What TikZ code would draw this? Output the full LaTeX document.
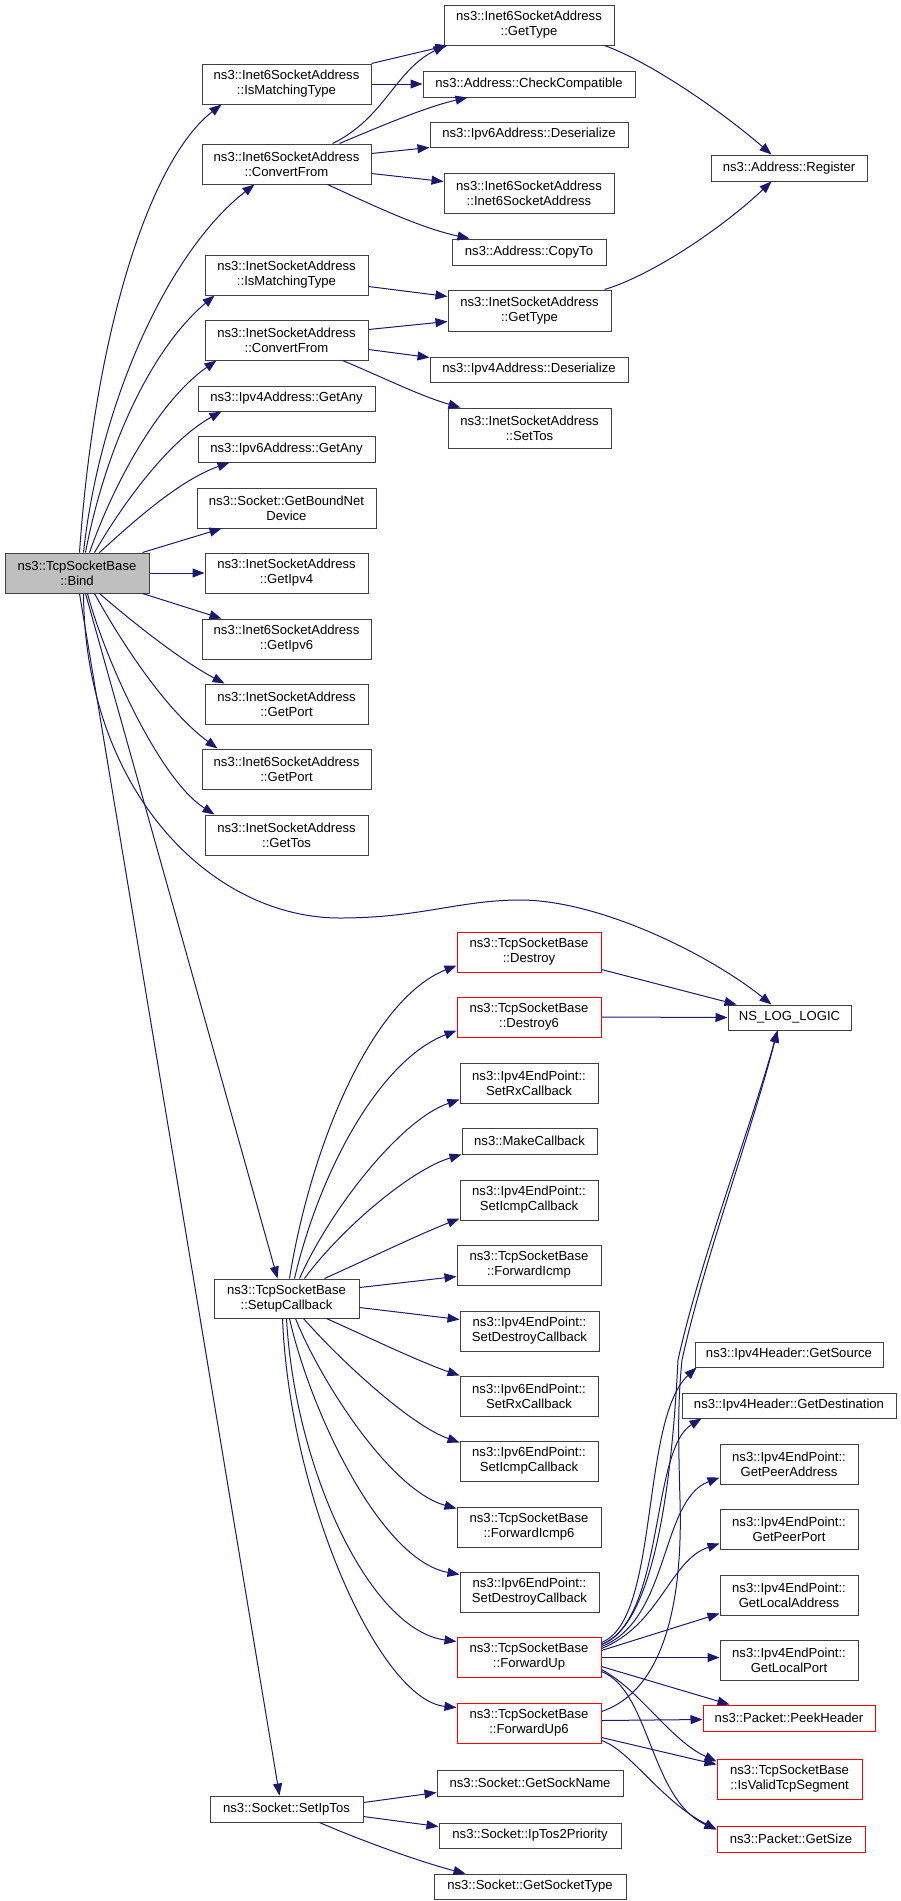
\documentclass[tikz,border=0pt]{standalone}
\usepackage{fontspec}
\setmainfont{Liberation Sans}
\usetikzlibrary{arrows.meta}
\definecolor{edgeblue}{HTML}{191970}
\definecolor{boxgray}{HTML}{404040}
\definecolor{rootgray}{HTML}{BFBFBF}
\definecolor{nodered}{HTML}{FF0000}
\newcommand\bx[7]{%
  \pgfmathsetmacro\bxw{#4-#2}\pgfmathsetmacro\bxh{#5-#3}%
  \pgfmathsetmacro\bxx{(#2+#4)/2}\pgfmathsetmacro\bxy{(#3+#5)/2}%
  \node[#6, minimum width=\bxw pt, minimum height=\bxh pt] (#1) at (\bxx,\bxy) {#7};}
\tikzset{
  box/.style={draw=boxgray, line width=1pt, inner sep=0pt, align=center,
    font=\fontsize{13.1}{15}\selectfont, fill=white},
  redbox/.style={box, draw=nodered},
  rootbox/.style={box, fill=rootgray},
  arr/.style={draw=edgeblue, line width=1pt, -{Triangle[length=12pt,width=9pt]}},
}
\begin{document}
\begin{tikzpicture}[x=1pt,y=-1pt]
\fill[white] (0,0) rectangle (901,1901);
\useasboundingbox (0,0) rectangle (901,1901);
% nodes
\bx{bind}{5}{553}{149}{593}{rootbox}{ns3::TcpSocketBase\\::Bind}
\bx{i6match}{202}{64}{371}{104}{box}{ns3::Inet6SocketAddress\\::IsMatchingType}
\bx{i6conv}{202}{144}{371}{184}{box}{ns3::Inet6SocketAddress\\::ConvertFrom}
\bx{imatch}{205}{255}{368}{295}{box}{ns3::InetSocketAddress\\::IsMatchingType}
\bx{iconv}{205}{320}{368}{360}{box}{ns3::InetSocketAddress\\::ConvertFrom}
\bx{v4any}{198}{386}{375}{411}{box}{ns3::Ipv4Address::GetAny}
\bx{v6any}{198}{436}{375}{462}{box}{ns3::Ipv6Address::GetAny}
\bx{bound}{197}{488}{376}{528}{box}{ns3::Socket::GetBoundNet\\Device}
\bx{ipv4}{205}{553}{368}{593}{box}{ns3::InetSocketAddress\\::GetIpv4}
\bx{ipv6}{202}{619}{371}{659}{box}{ns3::Inet6SocketAddress\\::GetIpv6}
\bx{iport}{205}{684}{368}{724}{box}{ns3::InetSocketAddress\\::GetPort}
\bx{i6port}{202}{749}{371}{789}{box}{ns3::Inet6SocketAddress\\::GetPort}
\bx{itos}{205}{815}{368}{855}{box}{ns3::InetSocketAddress\\::GetTos}
\bx{i6type}{444}{5}{614}{45}{box}{ns3::Inet6SocketAddress\\::GetType}
\bx{check}{423}{71}{635}{97}{box}{ns3::Address::CheckCompatible}
\bx{v6deser}{430}{122}{628}{147}{box}{ns3::Ipv6Address::Deserialize}
\bx{i6ctor}{444}{173}{614}{213}{box}{ns3::Inet6SocketAddress\\::Inet6SocketAddress}
\bx{copyto}{452}{239}{606}{265}{box}{ns3::Address::CopyTo}
\bx{itype}{448}{290}{611}{331}{box}{ns3::InetSocketAddress\\::GetType}
\bx{v4deser}{430}{357}{628}{382}{box}{ns3::Ipv4Address::Deserialize}
\bx{settos}{448}{408}{611}{448}{box}{ns3::InetSocketAddress\\::SetTos}
\bx{reg}{711}{155}{867}{181}{box}{ns3::Address::Register}
\bx{log}{728}{1005}{851}{1030}{box}{NS\_LOG\_LOGIC}
\bx{destroy}{457}{932}{601}{972}{redbox}{ns3::TcpSocketBase\\::Destroy}
\bx{destroy6}{457}{997}{601}{1037}{redbox}{ns3::TcpSocketBase\\::Destroy6}
\bx{setrx4}{460}{1063}{598}{1103}{box}{ns3::Ipv4EndPoint::\\SetRxCallback}
\bx{make}{462}{1128}{597}{1154}{box}{ns3::MakeCallback}
\bx{seticmp4}{460}{1180}{598}{1220}{box}{ns3::Ipv4EndPoint::\\SetIcmpCallback}
\bx{fwdicmp}{457}{1245}{601}{1285}{box}{ns3::TcpSocketBase\\::ForwardIcmp}
\bx{setup}{214}{1279}{359}{1318}{box}{ns3::TcpSocketBase\\::SetupCallback}
\bx{setdes4}{460}{1311}{599}{1351}{box}{ns3::Ipv4EndPoint::\\SetDestroyCallback}
\bx{setrx6}{460}{1376}{598}{1416}{box}{ns3::Ipv6EndPoint::\\SetRxCallback}
\bx{seticmp6}{460}{1441}{598}{1481}{box}{ns3::Ipv6EndPoint::\\SetIcmpCallback}
\bx{fwdicmp6}{457}{1507}{601}{1547}{box}{ns3::TcpSocketBase\\::ForwardIcmp6}
\bx{setdes6}{460}{1572}{599}{1612}{box}{ns3::Ipv6EndPoint::\\SetDestroyCallback}
\bx{fwdup}{457}{1637}{601}{1677}{redbox}{ns3::TcpSocketBase\\::ForwardUp}
\bx{fwdup6}{457}{1703}{601}{1743}{redbox}{ns3::TcpSocketBase\\::ForwardUp6}
\bx{src}{695}{1342}{883}{1367}{box}{ns3::Ipv4Header::GetSource}
\bx{dst}{682}{1393}{896}{1418}{box}{ns3::Ipv4Header::GetDestination}
\bx{peeraddr}{720}{1444}{858}{1484}{box}{ns3::Ipv4EndPoint::\\GetPeerAddress}
\bx{peerport}{720}{1509}{858}{1549}{box}{ns3::Ipv4EndPoint::\\GetPeerPort}
\bx{locaddr}{720}{1575}{858}{1615}{box}{ns3::Ipv4EndPoint::\\GetLocalAddress}
\bx{locport}{720}{1640}{858}{1680}{box}{ns3::Ipv4EndPoint::\\GetLocalPort}
\bx{peek}{703}{1705}{875}{1731}{redbox}{ns3::Packet::PeekHeader}
\bx{valid}{717}{1759}{862}{1799}{redbox}{ns3::TcpSocketBase\\::IsValidTcpSegment}
\bx{size}{717}{1826}{865}{1852}{redbox}{ns3::Packet::GetSize}
\bx{setiptos}{210}{1796}{363}{1822}{box}{ns3::Socket::SetIpTos}
\bx{sockname}{437}{1770}{623}{1796}{box}{ns3::Socket::GetSockName}
\bx{tos2prio}{439}{1823}{621}{1848}{box}{ns3::Socket::IpTos2Priority}
\bx{socktype}{434}{1874}{626}{1899}{box}{ns3::Socket::GetSocketType}
% edges from Bind
\draw[arr] ([xshift=75pt]bind.north west) .. controls (95,330) and (150,160) .. ([xshift=20pt]i6match.south west);
\draw[arr] ([xshift=79pt]bind.north west) .. controls (100,400) and (170,250) .. ([xshift=53pt]i6conv.south west);
\draw[arr] ([xshift=81pt]bind.north west) .. controls (105,450) and (150,350) .. ([xshift=10pt]imatch.south west);
\draw[arr] ([xshift=85pt]bind.north west) .. controls (115,480) and (160,400) .. ([xshift=12pt]iconv.south west);
\draw[arr] ([xshift=90pt]bind.north west) .. controls (125,500) and (170,440) .. ([xshift=24pt]v4any.south west);
\draw[arr] ([xshift=95pt]bind.north west) .. controls (135,520) and (180,480) .. ([xshift=32pt]v6any.south west);
\draw[arr] ([xshift=138pt]bind.north west) -- ([xshift=25pt]bound.south west);
\draw[arr] (bind.east) -- (ipv4.west);
\draw[arr] ([xshift=138pt]bind.south west) -- ([xshift=20pt]ipv6.north west);
\draw[arr] ([xshift=95pt]bind.south west) .. controls (130,620) and (180,660) .. ([xshift=20pt]iport.north west);
\draw[arr] ([xshift=90pt]bind.south west) .. controls (120,640) and (165,710) .. ([xshift=16pt]i6port.north west);
\draw[arr] ([xshift=83pt]bind.south west) .. controls (105,660) and (160,780) .. ([xshift=10pt]itos.north west);
\draw[arr] ([xshift=79pt]bind.south west) .. controls (85,790) and (210,918) .. (340,918)
   .. controls (420,918) and (460,900) .. (520,900)
   .. controls (600,900) and (710,955) .. ([xshift=44pt]log.north west);
\draw[arr] ([xshift=81pt]bind.south west) -- ([xshift=64pt]setup.north west);
\draw[arr] ([xshift=75pt]bind.south west) -- ([xshift=70pt]setiptos.north west);
% Inet6 group
\draw[arr] (i6match.north east) -- ([xshift=4pt]i6type.south west);
\draw[arr] (i6match.east) -- (check.west);
\draw[arr] ([xshift=131pt]i6conv.north west) .. controls (385,118) and (395,70) .. ([xshift=2pt]i6type.south west);
\draw[arr] ([xshift=138pt]i6conv.north west) .. controls (390,122) and (430,106) .. ([xshift=45pt]check.south west);
\draw[arr] ([yshift=-10pt]i6conv.north east) -- (v6deser.south west);
\draw[arr] ([yshift=-30pt]i6conv.north east) -- ([yshift=-9pt]i6ctor.north west);
\draw[arr] ([xshift=126pt]i6conv.south west) .. controls (370,204) and (420,228) .. ([xshift=18pt]copyto.north west);
\draw[arr] ([xshift=-10pt]i6type.south east) .. controls (650,62) and (720,110) .. ([xshift=61pt]reg.north west);
\draw[arr] ([xshift=-7pt]itype.north east) .. controls (650,276) and (720,230) .. ([xshift=61pt]reg.south west);
% Inet group
\draw[arr] ([yshift=-32pt]imatch.north east) -- ([yshift=-7pt]itype.north west);
\draw[arr] ([yshift=-10pt]iconv.north east) -- ([yshift=-32pt]itype.north west);
\draw[arr] ([yshift=-30pt]iconv.north east) -- ([yshift=-1pt]v4deser.north west);
\draw[arr] ([xshift=138pt]iconv.south west) .. controls (380,376) and (420,396) .. ([xshift=13pt]settos.north west);
% SetupCallback
\draw[arr] ([xshift=76pt]setup.north west) .. controls (310,1150) and (370,1000) .. ([yshift=-34pt]destroy.north west);
\draw[arr] ([xshift=81pt]setup.north west) .. controls (320,1170) and (380,1060) .. ([yshift=-34pt]destroy6.north west);
\draw[arr] ([xshift=86pt]setup.north west) .. controls (330,1210) and (400,1120) .. ([yshift=-37pt]setrx4.north west);
\draw[arr] ([xshift=91pt]setup.north west) .. controls (340,1230) and (410,1170) .. (make.south west);
\draw[arr] ([xshift=111pt]setup.north west) .. controls (370,1258) and (420,1234) .. ([yshift=-39pt]seticmp4.north west);
\draw[arr] ([yshift=-9pt]setup.north east) -- ([yshift=-32pt]fwdicmp.north west);
\draw[arr] ([yshift=-29pt]setup.north east) -- ([yshift=-9pt]setdes4.north west);
\draw[arr] ([xshift=113pt]setup.south west) .. controls (370,1338) and (420,1362) .. (setrx6.north west);
\draw[arr] ([xshift=90pt]setup.south west) .. controls (340,1360) and (410,1425) .. ([yshift=-2pt]seticmp6.north west);
\draw[arr] ([xshift=82pt]setup.south west) .. controls (320,1380) and (390,1490) .. ([yshift=-2pt]fwdicmp6.north west);
\draw[arr] ([xshift=76pt]setup.south west) .. controls (310,1410) and (380,1560) .. ([yshift=-3pt]setdes6.north west);
\draw[arr] ([xshift=73pt]setup.south west) .. controls (295,1470) and (370,1630) .. ([yshift=-5pt]fwdup.north west);
\draw[arr] ([xshift=69pt]setup.south west) .. controls (290,1500) and (380,1700) .. ([yshift=-5pt]fwdup6.north west);
% to NS_LOG_LOGIC
\draw[arr] ([yshift=-38pt]destroy.north east) -- ([xshift=9pt]log.north west);
\draw[arr] (destroy6.east) -- (log.west);
\draw[arr] ([yshift=-8pt]fwdup.north east) .. controls (655,1625) and (672,1480) .. (678,1360)
   .. controls (700,1260) and (750,1130) .. ([xshift=50pt]log.south west);
\draw[arr] ([yshift=-9pt]fwdup6.north east) .. controls (665,1690) and (683,1600) .. (680,1500)
   .. controls (678,1430) and (678,1400) .. (682,1360)
   .. controls (704,1260) and (752,1130) .. ([xshift=50pt]log.south west);
% ForwardUp
\draw[arr] ([yshift=-6pt]fwdup.north east) .. controls (660,1620) and (640,1420) .. ([xshift=2pt]src.south west);
\draw[arr] ([yshift=-8pt]fwdup.north east) .. controls (665,1620) and (650,1450) .. ([xshift=20pt]dst.south west);
\draw[arr] ([yshift=-10pt]fwdup.north east) .. controls (670,1620) and (660,1500) .. ([yshift=7pt]peeraddr.south west);
\draw[arr] ([yshift=-12pt]fwdup.north east) .. controls (660,1625) and (670,1560) .. ([yshift=6pt]peerport.south west);
\draw[arr] ([yshift=-14pt]fwdup.north east) -- ([yshift=2pt]locaddr.south west);
\draw[arr] ([yshift=-21pt]fwdup.north east) -- ([yshift=-18pt]locport.north west);
\draw[arr] ([yshift=-30pt]fwdup.north east) -- ([xshift=27pt]peek.north west);
\draw[arr] ([yshift=-33pt]fwdup.north east) .. controls (640,1690) and (670,1740) .. ([yshift=-3pt]valid.north west);
\draw[arr] ([yshift=-35pt]fwdup.north east) .. controls (650,1690) and (650,1800) .. ([yshift=-4pt]size.north west);
% ForwardUp6
\draw[arr] ([yshift=-18pt]fwdup6.north east) -- ([yshift=-15pt]peek.north west);
\draw[arr] ([yshift=-35pt]fwdup6.north east) -- ([yshift=-6pt]valid.north west);
\draw[arr] ([yshift=-38pt]fwdup6.north east) .. controls (630,1750) and (660,1800) .. ([yshift=-4pt]size.north west);
% SetIpTos
\draw[arr] ([yshift=-7pt]setiptos.north east) -- ([yshift=-23pt]sockname.north west);
\draw[arr] ([yshift=-21pt]setiptos.north east) -- ([yshift=-4pt]tos2prio.north west);
\draw[arr] ([xshift=110pt]setiptos.south west) .. controls (360,1840) and (420,1862) .. ([xshift=32pt]socktype.north west);
\end{tikzpicture}
\end{document}
